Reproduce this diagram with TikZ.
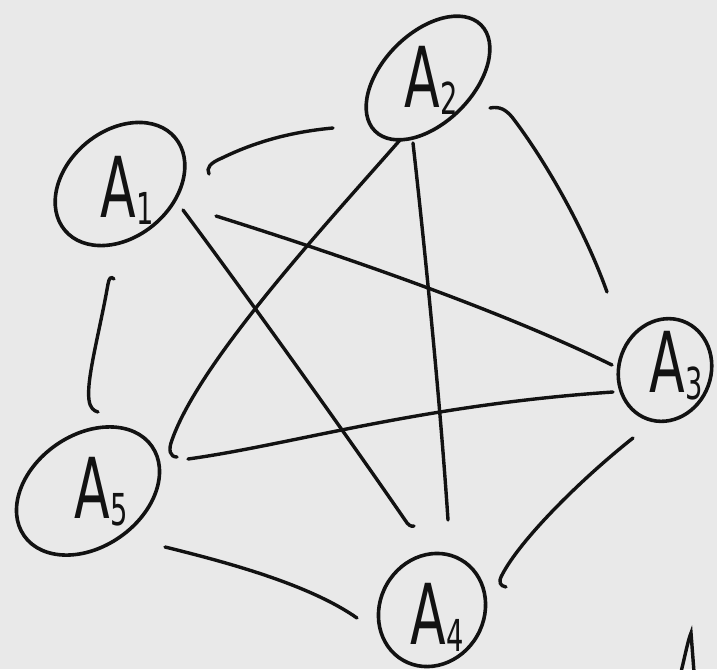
\documentclass[tikz,border=0pt]{standalone}
\usepackage{fontspec}
\usepackage{graphicx}
\usetikzlibrary{calc}
\newfontfamily\handfont{DejaVu Sans}[Scale=1]
\definecolor{paper}{HTML}{E9E9E9}
\definecolor{ink}{HTML}{121212}
\newcommand{\alab}[1]{\scalebox{0.62}[1]{\handfont\fontsize{84}{84}\selectfont A\kern1pt\raisebox{-7pt}{\fontsize{44}{44}\selectfont #1}}}
\tikzset{
  lbl/.style={inner sep=0pt, text=ink},
  ring/.style={draw=ink, line width=3.6pt},
  edge/.style={draw=ink, line width=3.4pt, line cap=round}
}
\begin{document}
\begin{tikzpicture}[x=1pt,y=-1pt]
\useasboundingbox (0,0) rectangle (717,669);
\fill[paper] (0,0) rectangle (717,669);
% nodes (labels)
\node[lbl] (A1) at (127,190) {\alab{1}};
\node[lbl] (A2) at (431,80) {\alab{2}};
\node[lbl] (A3) at (676,366) {\alab{3}};
\node[lbl] (A4) at (437,617) {\alab{4}};
\node[lbl] (A5) at (101,492) {\alab{5}};
% rings
\draw[ring] ($(A1)+(-7,-6)$) ellipse [x radius=72, y radius=53, rotate=40];
\draw[ring] ($(A2)+(-3,-2)$) ellipse [x radius=75, y radius=45, rotate=45];
\draw[ring] ($(A3)+(-11,4)$) ellipse [x radius=52, y radius=46, rotate=70];
\draw[ring] ($(A4)+(-5,-7)$) ellipse [x radius=58, y radius=52, rotate=60];
\draw[ring] ($(A5)+(-13,-1)$) ellipse [x radius=78, y radius=56, rotate=35];
% edges
\draw[edge] ($(A1)+(82,-16)$) .. controls (206,168) and (210,163) .. (222,158) .. controls (255,142) and (290,132) .. ($(A2)+(-98,48)$);
\draw[edge] ($(A2)+(59,28)$) .. controls (500,106) and (506,110) .. (512,117) .. controls (545,160) and (585,230) .. ($(A3)+(-69,-74)$);
\draw[edge] ($(A1)+(-13,89)$) .. controls (111,276) and (109,278) .. (108,284) .. controls (100,330) and (86,380) .. (89,400) .. controls (90,408) and (94,411) .. ($(A5)+(-3,-80)$);
\draw[edge] ($(A1)+(89,26)$) .. controls (340,255) and (500,310) .. ($(A3)+(-64,-1)$);
\draw[edge] ($(A1)+(56,20)$) .. controls (250,300) and (350,440) .. (405,520) .. controls (408,525) and (411,527) .. ($(A4)+(-23,-91)$);
\draw[edge] ($(A2)+(-31,60)$) .. controls (330,220) and (200,360) .. (172,440) .. controls (168,450) and (170,457) .. ($(A5)+(76,-35)$);
\draw[edge] ($(A2)+(-18,63)$) .. controls (425,250) and (440,400) .. ($(A4)+(11,-97)$);
\draw[edge] ($(A5)+(87,-33)$) .. controls (290,445) and (420,405) .. ($(A3)+(-63,26)$);
\draw[edge] ($(A5)+(64,55)$) .. controls (230,563) and (310,585) .. ($(A4)+(-80,1)$);
\draw[edge] ($(A3)+(-43,72)$) .. controls (580,480) and (520,540) .. (502,575) .. controls (498,582) and (500,586) .. ($(A4)+(69,-30)$);
% stray pen mark at the lower right
\draw[edge] (681,672) .. controls (685,656) and (688,640) .. (691,633) -- (694,672);
\end{tikzpicture}
\end{document}
